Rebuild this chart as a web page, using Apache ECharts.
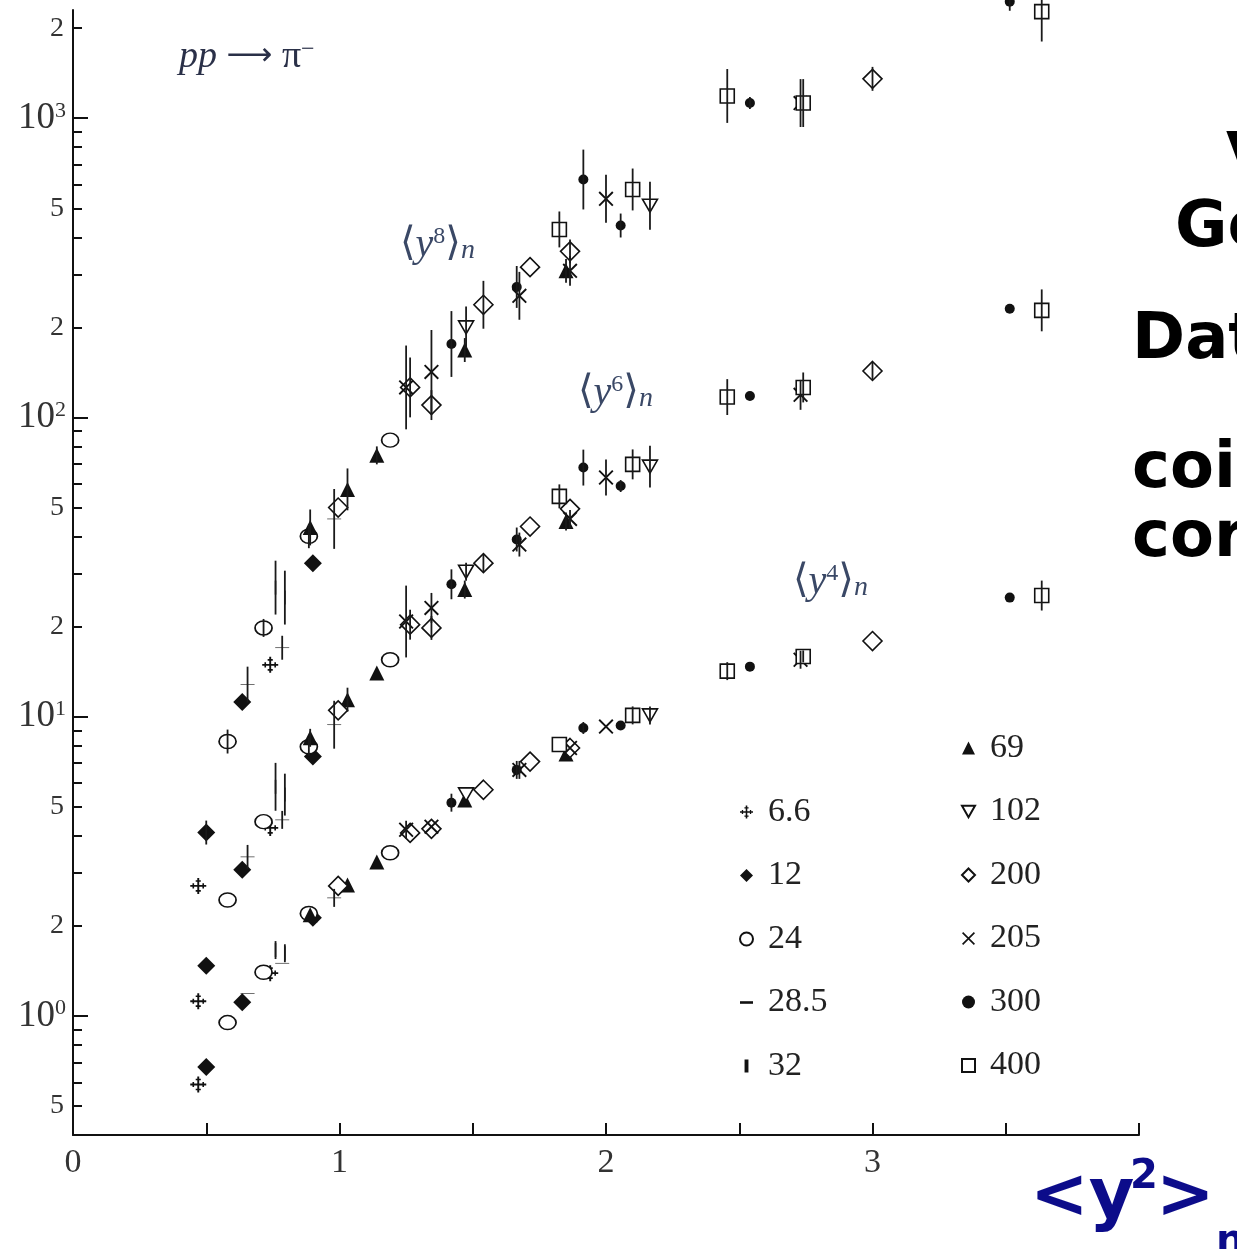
<!DOCTYPE html>
<html>
<head>
<meta charset="utf-8">
<script src="https://cdn.jsdelivr.net/npm/echarts@6/dist/echarts.min.js"></script>
<style>
  html, body { margin: 0; padding: 0; background: #fff; }
  #chart { width: 1237px; height: 1249px; }
</style>
</head>
<body>
<div id="chart"></div>
<script>
// Normalized moments of the pi- multiplicity distribution in pp collisions.
// Each row: [<y^2>_n, <y^4>_n, <y^6>_n, <y^8>_n, err4, err6, err8]
// errors are half-widths of the bar in decades (0 = no bar drawn).
const energies = ['6.6', '12', '24', '28.5', '32', '69', '102', '200', '205', '300', '400'];

const pts_6_6 = [
  [0.47, 0.59, 1.12, 2.72, 0, 0, 0],
  [0.74, 1.39, 4.25, 14.9, 0, 0, 0]
];
const pts_12 = [
  [0.50, 0.675, 1.47, 4.1, 0, 0, 0.04],
  [0.635, 1.11, 3.08, 11.2, 0, 0, 0],
  [0.90, 2.13, 7.36, 32.6, 0, 0, 0]
];
const pts_24 = [
  [0.58, 0.95, 2.44, 8.26, 0, 0, 0.04],
  [0.715, 1.40, 4.46, 19.8, 0, 0, 0.03],
  [0.885, 2.2, 7.93, 40.1, 0, 0.03, 0.04],
  [1.19, 3.51, 15.5, 84, 0, 0, 0]
];
const pts_28_5 = [
  [0.655, 1.19, 3.40, 12.8, 0, 0.04, 0.06],
  [0.785, 1.50, 4.52, 17.0, 0, 0.03, 0.04],
  [0.98, 2.48, 9.4, 45.8, 0.03, 0.08, 0.1]
];
const pts_32 = [
  [0.76, 1.66, 5.83, 27.0, 0.03, 0.08, 0.09],
  [0.795, 1.62, 5.49, 25.0, 0.03, 0.07, 0.09]
];
const pts_69 = [
  [0.89, 2.18, 8.5, 42.9, 0, 0.03, 0.06],
  [1.03, 2.74, 11.4, 57.5, 0, 0.04, 0.07],
  [1.14, 3.27, 14.0, 74.7, 0, 0, 0.03],
  [1.47, 5.27, 26.6, 168, 0, 0.03, 0.04],
  [1.85, 7.5, 44.9, 309, 0, 0.03, 0.04]
];
const pts_102 = [
  [1.475, 5.5, 30.5, 200, 0, 0.03, 0.07],
  [2.165, 10.1, 68.5, 510, 0.03, 0.07, 0.08]
];
const pts_200 = [
  [0.995, 2.72, 10.5, 50, 0, 0, 0],
  [1.265, 4.09, 20.3, 126, 0, 0.05, 0.1],
  [1.345, 4.22, 19.8, 110, 0, 0.04, 0.05],
  [1.54, 5.7, 32.6, 238, 0, 0.03, 0.08],
  [1.715, 7.08, 43.2, 318, 0, 0, 0],
  [1.865, 7.86, 49.5, 359, 0, 0, 0.04],
  [3.0, 17.9, 143, 1354, 0, 0.03, 0.04]
];
const pts_205 = [
  [1.25, 4.19, 20.8, 126, 0.03, 0.12, 0.14],
  [1.345, 4.29, 23.1, 142, 0, 0.05, 0.14],
  [1.675, 6.64, 37.6, 255, 0.03, 0.04, 0.08],
  [1.865, 7.86, 45.8, 309, 0, 0.03, 0.05],
  [2.0, 9.27, 63, 538, 0, 0.06, 0.08],
  [2.73, 15.5, 119, 1124, 0.03, 0.05, 0.08]
];
const pts_300 = [
  [1.42, 5.16, 27.7, 176, 0.03, 0.05, 0.11],
  [1.665, 6.64, 39.1, 273, 0.03, 0.04, 0.07],
  [1.915, 9.17, 68, 624, 0.02, 0.06, 0.1],
  [2.055, 9.34, 59, 438, 0, 0.02, 0.04],
  [2.54, 14.7, 118, 1124, 0, 0, 0.02],
  [3.515, 25.0, 231, 2450, 0, 0, 0.03]
];
const pts_400 = [
  [1.825, 8.07, 54.5, 425, 0, 0.04, 0.06],
  [2.10, 10.1, 69.7, 578, 0.03, 0.05, 0.07],
  [2.455, 14.2, 117, 1187, 0.03, 0.06, 0.09],
  [2.74, 15.9, 126, 1124, 0.02, 0.05, 0.08],
  [3.635, 25.4, 228, 2272, 0.05, 0.07, 0.1]
];

const rowsByEnergy = [pts_6_6, pts_12, pts_24, pts_28_5, pts_32, pts_69, pts_102, pts_200, pts_205, pts_300, pts_400];

// Axis ticks
const xTicks = [0, 0.5, 1, 1.5, 2, 2.5, 3, 3.5, 4];
const xLabels = [0, 1, 2, 3];
const yMajorTicks = [1, 10, 100, 1000];
const yLabelTicks = [0.5, 1, 2, 5, 10, 20, 50, 100, 200, 500, 1000, 2000];
const yMinorTicks = [0.5, 0.6, 0.7, 0.8, 0.9, 2, 3, 4, 5, 6, 7, 8, 9, 20, 30, 40, 50, 60, 70, 80, 90,
  200, 300, 400, 500, 600, 700, 800, 900, 2000];

// Marker shapes
const PLUS_DOTS = 'path://M4.4,0H5.6V10H4.4Z M0,4.4H10V5.6H0Z M3.4,1.4H6.6V2.4H3.4Z M3.4,7.6H6.6V8.6H3.4Z M1.4,3.4H2.4V6.6H1.4Z M7.6,3.4H8.6V6.6H7.6Z';
const CROSS = 'path://M0,0.9L0.9,0L10,9.1L9.1,10Z M9.1,0L10,0.9L0.9,10L0,9.1Z';
const TRI_DOWN = 'path://M0,0H10L5,8.7Z';
const DASH = 'path://M0,0H10V2H0Z';
const BAR = 'path://M0,0H3V10H0Z';
const BLACK = '#111';
const filled = { color: BLACK, borderWidth: 0 };
const open = { color: '#fff', borderColor: BLACK, borderWidth: 1.6 };
const markerStyles = {
  '6.6':  { symbol: PLUS_DOTS, size: 16, item: filled },
  '12':   { symbol: 'diamond', size: [18, 18], item: filled },
  '24':   { symbol: 'circle', size: [17, 14], item: open },
  '28.5': { symbol: DASH, size: [14, 3], item: filled },
  '32':   { symbol: BAR, size: [5, 14], item: filled },
  '69':   { symbol: 'triangle', size: 15, item: filled },
  '102':  { symbol: TRI_DOWN, size: 15, item: open },
  '200':  { symbol: 'diamond', size: [19, 19], item: open },
  '205':  { symbol: CROSS, size: 15, item: filled },
  '300':  { symbol: 'circle', size: 10, item: filled },
  '400':  { symbol: 'rect', size: 14, item: open }
};

const SERIF = '"Liberation Serif", "DejaVu Serif", serif';

const scatterSeries = energies.map((e, i) => {
  const st = markerStyles[e];
  const data = [];
  rowsByEnergy[i].forEach(r => {
    data.push([r[0], r[1]], [r[0], r[2]], [r[0], r[3]]);
  });
  return {
    name: e,
    type: 'scatter',
    xAxisIndex: 0,
    yAxisIndex: 0,
    symbol: st.symbol,
    symbolSize: st.size,
    symbolKeepAspect: true,
    itemStyle: Object.assign({ opacity: 1 }, st.item),
    emphasis: { disabled: true },
    clip: false,
    z: 3,
    data: data
  };
});

// Vertical error bars: [x, low, high]
const errData = [];
rowsByEnergy.forEach(rows => rows.forEach(r => {
  for (let k = 1; k <= 3; k++) {
    const d = r[k + 3];
    if (d > 0) errData.push([r[0], r[k] / Math.pow(10, d), r[k] * Math.pow(10, d)]);
  }
}));

const errSeries = {
  name: 'errors',
  type: 'custom',
  xAxisIndex: 0,
  yAxisIndex: 0,
  silent: true,
  z: 4,
  encode: { x: 0, y: [1, 2] },
  renderItem: function (params, api) {
    const a = api.coord([api.value(0), api.value(1)]);
    const b = api.coord([api.value(0), api.value(2)]);
    return {
      type: 'line',
      shape: { x1: a[0], y1: a[1], x2: b[0], y2: b[1] },
      style: { stroke: '#1a1a1a', lineWidth: 1.8 }
    };
  },
  data: errData
};

function yLabel(v) {
  const p = Math.round(Math.log10(v));
  if (Math.abs(v - Math.pow(10, p)) < 1e-9 * v) return '{b|10}{s|' + p + '}';
  const mant = v / Math.pow(10, Math.floor(Math.log10(v) + 1e-9));
  return '{m|' + Math.round(mant) + '}';
}

const legendBase = {
  orient: 'vertical',
  selectedMode: false,
  itemWidth: 13,
  itemHeight: 13,
  itemGap: 29.5,
  textStyle: { fontFamily: SERIF, fontSize: 34, color: '#222', lineHeight: 34, padding: [0, 0, 0, 10] }
};

const annoColor = '#3a4866';
function momentLabel(k, x, y) {
  return {
    type: 'text', x: x, y: y, z: 10, silent: true,
    style: {
      text: '{a|⟨}{y|y}{s|' + k + '}{a|⟩}{n|n}',
      verticalAlign: 'middle',
      rich: {
        a: { fontFamily: '"DejaVu Serif", serif', fontSize: 40, fill: annoColor, color: annoColor },
        y: { fontFamily: SERIF, fontStyle: 'italic', fontSize: 40, fill: annoColor, color: annoColor },
        s: { fontFamily: SERIF, fontSize: 24, verticalAlign: 'top', fill: annoColor, color: annoColor },
        n: { fontFamily: SERIF, fontStyle: 'italic', fontSize: 28, verticalAlign: 'bottom', fill: annoColor, color: annoColor }
      }
    }
  };
}

function boldLine(txt, x, y) {
  return {
    type: 'text', x: x, y: y, z: 10, silent: true,
    style: { text: txt, font: 'bold 64px "DejaVu Sans"', fill: '#000', verticalAlign: 'middle' }
  };
}

const NAVY = '#0c0c8a';
const HEAD = '#2a3048';
const option = {
  backgroundColor: '#fff',
  animation: false,
  grid: { left: 73, right: 98, top: 10, bottom: 114, containLabel: false },
  xAxis: [{
    type: 'value', min: 0, max: 4, interval: 0.5,
    axisLine: { show: true, lineStyle: { color: '#111', width: 2 } },
    axisTick: { show: true, inside: true, length: 12, customValues: xTicks, lineStyle: { color: '#111', width: 2 } },
    axisLabel: {
      show: true, margin: 11, fontFamily: SERIF, fontSize: 34, color: '#333',
      customValues: xLabels,
      formatter: v => String(v)
    },
    splitLine: { show: false }
  }],
  yAxis: [{
    type: 'log', logBase: 10, min: 0.4, max: 2300, position: 'left',
    axisLine: { show: true, lineStyle: { color: '#111', width: 2 } },
    axisTick: { show: true, inside: true, length: 15, customValues: yMajorTicks, lineStyle: { color: '#111', width: 2 } },
    axisLabel: {
      show: true, margin: 7, customValues: yLabelTicks, formatter: yLabel,
      rich: {
        b: { fontFamily: SERIF, fontSize: 37, color: '#333' },
        s: { fontFamily: SERIF, fontSize: 22, color: '#333', verticalAlign: 'top' },
        m: { fontFamily: SERIF, fontSize: 28, color: '#333', padding: [0, 2, 0, 0] }
      }
    },
    splitLine: { show: false }
  }, {
    type: 'log', logBase: 10, min: 0.4, max: 2300, position: 'left',
    axisLine: { show: false },
    axisTick: { show: true, inside: true, length: 9, customValues: yMinorTicks, lineStyle: { color: '#111', width: 2 } },
    axisLabel: { show: false },
    splitLine: { show: false }
  }],
  legend: [
    Object.assign({}, legendBase, { left: 734, top: 790, data: ['6.6', '12', '24', '28.5', '32'] }),
    Object.assign({}, legendBase, { left: 956, top: 726, data: ['69', '102', '200', '205', '300', '400'] })
  ],
  series: scatterSeries.concat([errSeries]),
  graphic: [
    {
      type: 'text', x: 179, y: 57, z: 10, silent: true,
      style: {
        text: '{i|pp}{r| }{a|⟶}{r| π}{s|−}',
        verticalAlign: 'middle',
        rich: {
          i: { fontFamily: SERIF, fontStyle: 'italic', fontSize: 38, fill: HEAD, color: HEAD },
          r: { fontFamily: SERIF, fontSize: 38, fill: HEAD, color: HEAD },
          a: { fontFamily: '"DejaVu Sans", sans-serif', fontSize: 32, fill: HEAD, color: HEAD },
          s: { fontFamily: SERIF, fontSize: 24, verticalAlign: 'top', fill: HEAD, color: HEAD }
        }
      }
    },
    momentLabel(8, 400, 245),
    momentLabel(6, 578, 393),
    momentLabel(4, 793, 582),
    boldLine('V', 1226, 161),
    boldLine('Go', 1175, 229),
    boldLine('Dat', 1132, 341),
    boldLine('coin', 1132, 470),
    boldLine('cor', 1132, 539),
    { type: 'text', x: 1030, y: 1199, z: 10, silent: true,
      style: { text: '<y', font: 'bold 70px "DejaVu Sans"', fill: NAVY, verticalAlign: 'middle' } },
    { type: 'text', x: 1130, y: 1178, z: 10, silent: true,
      style: { text: '2', font: 'bold 40px "DejaVu Sans"', fill: NAVY, verticalAlign: 'middle' } },
    { type: 'text', x: 1156, y: 1199, z: 10, silent: true,
      style: { text: '>', font: 'bold 70px "DejaVu Sans"', fill: NAVY, verticalAlign: 'middle' } },
    { type: 'text', x: 1216, y: 1243, z: 10, silent: true,
      style: { text: 'n', font: 'bold 40px "DejaVu Sans"', fill: NAVY, verticalAlign: 'middle' } }
  ]
};

const chart = echarts.init(document.getElementById('chart'), null, { renderer: 'canvas' });
chart.setOption(option);
</script>
</body>
</html>
